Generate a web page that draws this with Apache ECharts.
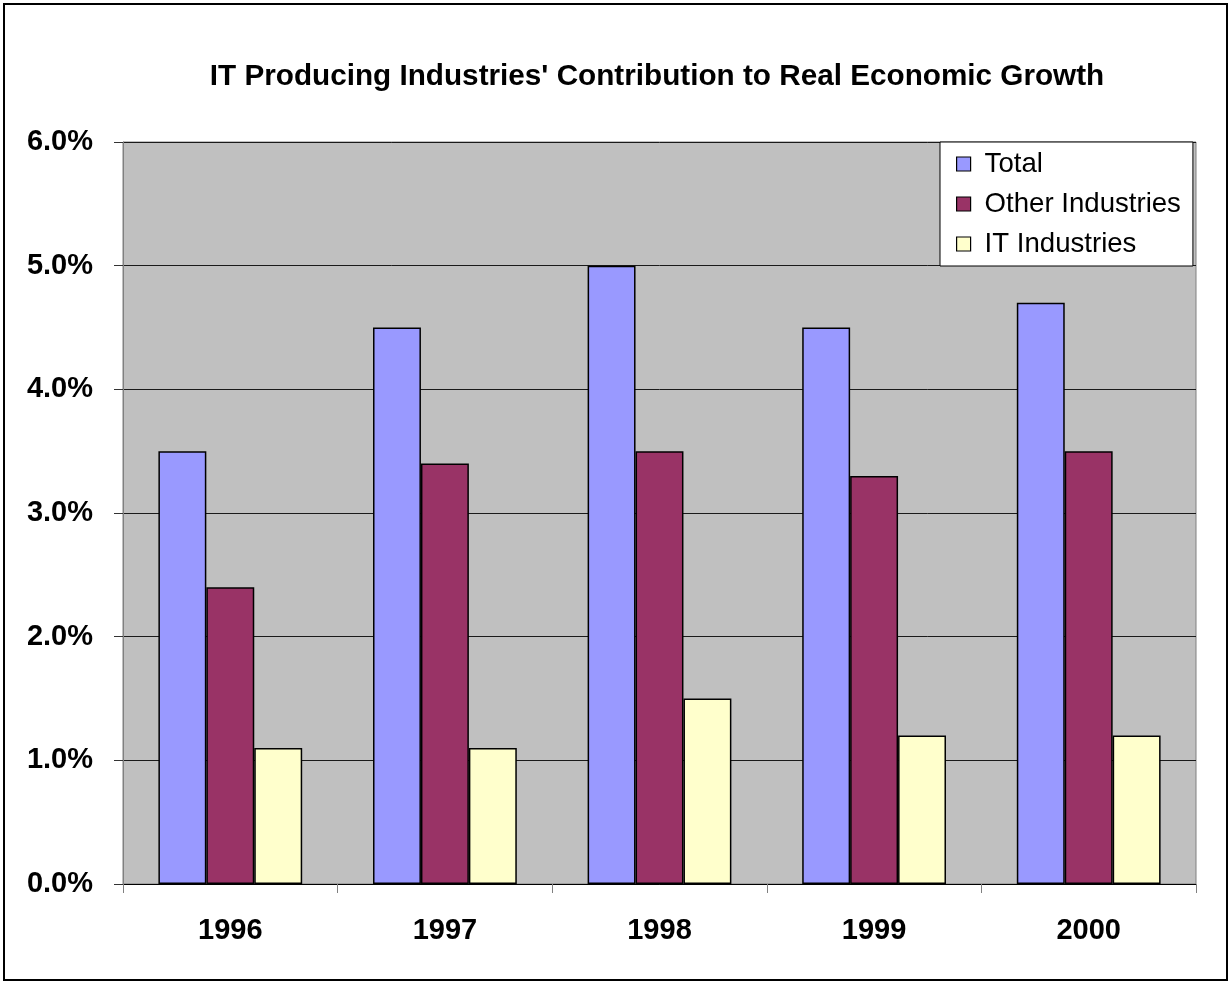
<!DOCTYPE html>
<html>
<head>
<meta charset="utf-8">
<script src="https://cdn.jsdelivr.net/npm/echarts@6/dist/echarts.min.js"></script>
<style>
html,body{margin:0;padding:0;background:#fff;}
#chart{width:1231px;height:984px;}
</style>
</head>
<body>
<div id="chart"></div>
<script>
const categories = ['1996', '1997', '1998', '1999', '2000'];
const totalValues = [3.5, 4.5, 5.0, 4.5, 4.7];
const otherValues = [2.4, 3.4, 3.5, 3.3, 3.5];
const itValues = [1.1, 1.1, 1.5, 1.2, 1.2];
const seriesNames = ['Total', 'Other Industries', 'IT Industries'];
const titleText = "IT Producing Industries' Contribution to Real Economic Growth";

const chart = echarts.init(document.getElementById('chart'), null, {renderer: 'canvas'});
const font = 'Liberation Sans, Arial, sans-serif';
const barBorder = {borderColor: '#000', borderWidth: 1.5};

chart.setOption({
  backgroundColor: '#fff',
  animation: false,
  title: {
    text: titleText,
    left: 652,
    textAlign: 'center',
    top: 57,
    textStyle: {fontFamily: font, fontWeight: 'bold', fontSize: 29.7, color: '#000'}
  },
  graphic: [{
    type: 'rect',
    shape: {x: 4, y: 4, width: 1223, height: 976},
    style: {fill: 'none', stroke: '#000', lineWidth: 2},
    silent: true,
    z: 100
  }],
  legend: {
    orient: 'vertical',
    left: 940,
    top: 142,
    padding: [8, 12, 8, 16],
    itemGap: 12,
    itemWidth: 14,
    itemHeight: 14,
    backgroundColor: '#fff',
    borderColor: '#000',
    borderWidth: 1,
    borderRadius: 0,
    icon: 'rect',
    itemStyle: {borderColor: '#000', borderWidth: 1.2},
    textStyle: {fontFamily: font, fontSize: 27.6, color: '#000', padding: [0, 0, 0, 9]},
    data: seriesNames
  },
  grid: {
    left: 123, top: 142, right: 35, bottom: 100,
    show: true, backgroundColor: '#C0C0C0', borderColor: '#808080', borderWidth: 1,
    containLabel: false
  },
  xAxis: {
    type: 'category',
    data: categories,
    boundaryGap: true,
    axisLine: {show: true, lineStyle: {color: '#000', width: 1}},
    axisTick: {show: true, length: 9, alignWithLabel: false, lineStyle: {color: '#808080', width: 1}},
    axisLabel: {fontFamily: font, fontWeight: 'bold', fontSize: 29, color: '#000', margin: 32},
    splitLine: {show: false}
  },
  yAxis: {
    type: 'value',
    min: 0, max: 6, interval: 1,
    axisLine: {show: true, lineStyle: {color: '#808080', width: 1}},
    axisTick: {show: true, inside: false, length: 9, lineStyle: {color: '#333', width: 1}},
    axisLabel: {fontFamily: font, fontWeight: 'bold', fontSize: 29, color: '#000', margin: 30,
      formatter: v => v.toFixed(1) + '%'},
    splitLine: {show: true, lineStyle: {color: '#1a1a1a', width: 1}}
  },
  series: [
    {name: seriesNames[0], type: 'bar', data: totalValues, barGap: '0%', barCategoryGap: '33%',
      itemStyle: Object.assign({color: '#9999FF'}, barBorder)},
    {name: seriesNames[1], type: 'bar', data: otherValues, barGap: '0%', barCategoryGap: '33%',
      itemStyle: Object.assign({color: '#993366'}, barBorder)},
    {name: seriesNames[2], type: 'bar', data: itValues, barGap: '0%', barCategoryGap: '33%',
      itemStyle: Object.assign({color: '#FFFFCC'}, barBorder)}
  ]
});
</script>
</body>
</html>
